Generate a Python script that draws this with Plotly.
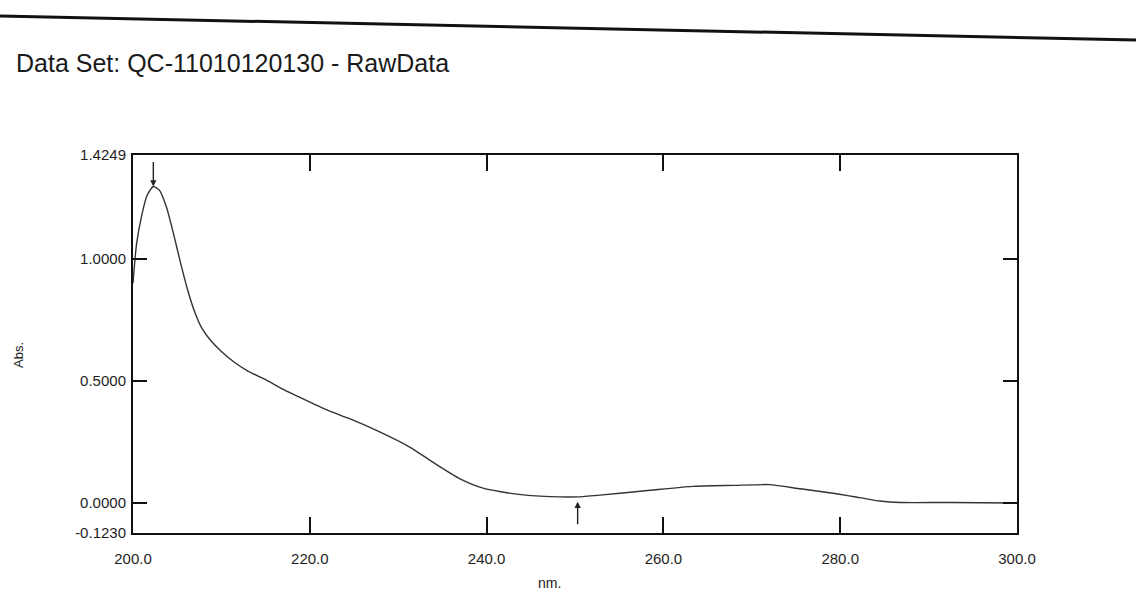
import plotly.graph_objects as go

# Absorbance spectrum (wavelength in nm, absorbance)
wavelength = [200.0, 200.4, 201.0, 201.6, 202.3, 203.0, 203.8, 204.6, 205.4, 206.2,
              207.0, 207.8, 208.8, 210.0, 211.5, 213.0, 215.0, 217.0, 219.0, 222.0,
              224.5, 227.6, 231.3, 234.0, 237.0, 239.6, 243.4, 247.2, 250.3, 252.8,
              258.5, 263.3, 267.9, 272.0, 275.5, 279.2, 282.2, 284.5, 286.8, 292.4,
              299.8, 300.0]
absorbance = [0.90, 1.06, 1.18, 1.26, 1.296, 1.28, 1.21, 1.10, 0.98, 0.87,
              0.78, 0.715, 0.665, 0.62, 0.575, 0.54, 0.505, 0.465, 0.43, 0.38,
              0.345, 0.296, 0.229, 0.165, 0.099, 0.061, 0.036, 0.026, 0.025, 0.032,
              0.052, 0.068, 0.072, 0.075, 0.058, 0.04, 0.022, 0.008, 0.002, 0.002,
              0.0, 0.0]

x_ticks = [200, 220, 240, 260, 280, 300]
x_tick_text = ["200.0", "220.0", "240.0", "260.0", "280.0", "300.0"]
y_ticks = [-0.1230, 0.0, 0.5, 1.0, 1.4249]
y_tick_text = ["-0.1230", "0.0000", "0.5000", "1.0000", "1.4249"]

# Picked peak / valley positions
peak_nm, peak_abs = 202.3, 1.296
valley_nm, valley_abs = 250.3, 0.025

# Plot-area geometry in pixels
W, H = 1136, 595
ML, MR, MT, MB = 133, 119, 155, 62
PW, PH = W - ML - MR, H - MT - MB


def px(x):
    return (x - ML) / PW


def py(y):
    return (H - MB - y) / PH


tick_font = dict(family="Liberation Sans, Arial", size=15, color="#1e1e1e")

fig = go.Figure()

fig.add_trace(go.Scatter(
    x=wavelength, y=absorbance, mode="lines",
    line=dict(color="#333", width=1.4, shape="spline", smoothing=0.6),
    hoverinfo="x+y", showlegend=False,
))

fig.add_annotation(x=peak_nm, y=peak_abs, ax=0, ay=-26, showarrow=True,
                   arrowhead=2, arrowsize=0.9, arrowwidth=1.4, arrowcolor="#222", text="")
fig.add_annotation(x=valley_nm, y=valley_abs - 0.02, ax=0, ay=24, showarrow=True,
                   arrowhead=2, arrowsize=0.9, arrowwidth=1.4, arrowcolor="#222", text="")

# Page rule above the header
fig.add_shape(type="line", xref="paper", yref="paper",
              x0=px(0), y0=py(16), x1=px(W), y1=py(40),
              line=dict(color="#111", width=3))

fig.add_annotation(xref="paper", yref="paper", x=px(14), y=py(63),
                   xanchor="left", yanchor="middle", showarrow=False,
                   text="Data Set: QC-11010120130 - RawData",
                   font=dict(family="Liberation Sans, Arial", size=25, color="#1a1a1a"))

fig.add_annotation(xref="paper", yref="paper", x=px(549), y=py(583),
                   xanchor="center", yanchor="middle", showarrow=False,
                   text="nm.", font=dict(family="Liberation Sans, Arial", size=14, color="#222"))
fig.add_annotation(xref="paper", yref="paper", x=px(18), y=py(355),
                   xanchor="center", yanchor="middle", showarrow=False, textangle=-90,
                   text="Abs.", font=dict(family="Liberation Sans, Arial", size=13, color="#222"))

fig.update_xaxes(
    range=[200, 300], tickvals=x_ticks, ticktext=x_tick_text,
    ticks="inside", ticklen=16, tickwidth=1.6, tickcolor="#111",
    showline=True, linewidth=2, linecolor="#111", mirror="ticks",
    showgrid=False, zeroline=False, tickfont=tick_font, ticklabelstandoff=11,
)
fig.update_yaxes(
    range=[-0.1230, 1.4249], tickvals=y_ticks, ticktext=y_tick_text,
    ticks="inside", ticklen=14, tickwidth=1.6, tickcolor="#111",
    showline=True, linewidth=2, linecolor="#111", mirror="ticks",
    showgrid=False, zeroline=False, tickfont=tick_font, ticklabelstandoff=2,
)

fig.update_layout(
    width=W, height=H,
    margin=dict(l=ML, r=MR, t=MT, b=MB),
    paper_bgcolor="white", plot_bgcolor="rgba(0,0,0,0)",
)

fig.write_html("out.html")
